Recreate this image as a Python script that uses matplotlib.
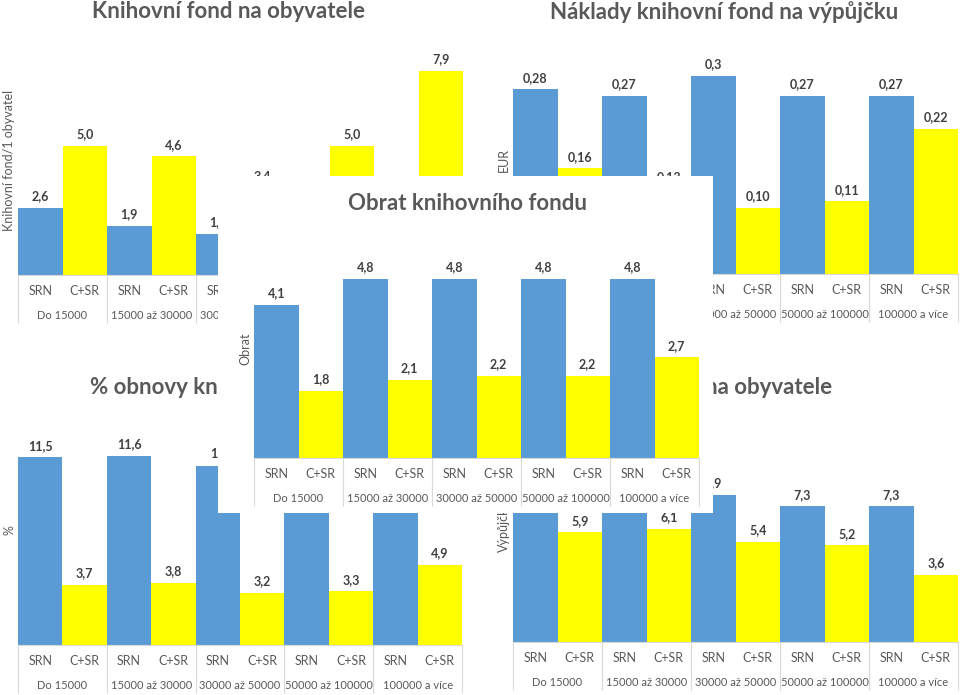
import numpy as np
import matplotlib
matplotlib.use('Agg')
from matplotlib import pyplot as plt

plt.rcParams['font.family'] = ['Lato', 'DejaVu Sans']

# categories
groups = ['Do 15000', '15000 až 30000', '30000 až 50000', '50000 až 100000', '100000 a více']
series = ['SRN', 'C+SR']

# Knihovní fond na obyvatele
fond_srn = ['2,6', '1,9', '1,6', '1,5', '1,4']
fond_csr = ['5,0', '4,6', '3,4', '5,0', '7,9']
# Náklady knihovní fond na výpůjčku
naklady_srn = ['0,28', '0,27', '0,3', '0,27', '0,27']
naklady_csr = ['0,16', '0,13', '0,10', '0,11', '0,22']
# % obnovy knihovního fondu
obnova_srn = ['11,5', '11,6', '11', '11,3', '10,9']
obnova_csr = ['3,7', '3,8', '3,2', '3,3', '4,9']
# Výpůjčky na obyvatele
vypujcky_srn = ['7,6', '7,8', '7,9', '7,3', '7,3']
vypujcky_csr = ['5,9', '6,1', '5,4', '5,2', '3,6']
# Obrat knihovního fondu
obrat_srn = ['4,1', '4,8', '4,8', '4,8', '4,8']
obrat_csr = ['1,8', '2,1', '2,2', '2,2', '2,7']

blue = '#5B9BD5'
yellow = '#FFFF00'
grey = '#595959'
line = '#D9D9D9'

W, H = 960, 695
fig = plt.figure(figsize=(W / 100, H / 100), dpi=100)
fig.patch.set_facecolor('white')


def px(x0, y0, x1, y1):
    # pixel box (origin top-left) -> figure fraction
    return [x0 / W, 1 - y1 / H, (x1 - x0) / W, (y1 - y0) / H]


def num(t):
    return float(t.replace(',', '.'))


def panel(z, box, plot, title, title_xy, ylabel, srn, csr, ymax):
    # white card behind the chart (covers whatever lies below)
    bg = fig.add_axes(px(*box), zorder=z)
    bg.set_facecolor('white')
    bg.set_xticks([])
    bg.set_yticks([])
    for s in bg.spines.values():
        s.set_visible(False)
    bg.text(title_xy[0] / W, 1 - title_xy[1] / H, title, transform=fig.transFigure,
            ha='center', va='center', fontsize=16, fontweight='bold', color=grey)

    ax = fig.add_axes(px(*plot), zorder=z + 0.5)
    ax.patch.set_visible(False)
    xs = np.arange(len(groups)) * 2
    s_vals = [num(t) for t in srn]
    c_vals = [num(t) for t in csr]
    ax.bar(xs, s_vals, width=1.0, color=blue)
    ax.bar(xs + 1, c_vals, width=1.0, color=yellow)
    for x, v, t in zip(list(xs) + list(xs + 1), s_vals + c_vals, srn + csr):
        ax.annotate(t, (x, v), xytext=(0, 4), textcoords='offset points',
                    ha='center', va='bottom', fontsize=9, fontweight='bold', color='#404040')

    ax.set_xlim(-0.5, 2 * len(groups) - 0.5)
    ax.set_ylim(0, ymax)
    ax.set_xticks(np.arange(2 * len(groups)))
    ax.set_xticklabels(series * len(groups))
    ax.set_yticks([])
    ax.tick_params(axis='x', length=0, pad=7, labelsize=9, labelcolor=grey)
    for k in ['top', 'right', 'left']:
        ax.spines[k].set_visible(False)
    ax.spines['bottom'].set_color(line)
    ax.spines['bottom'].set_linewidth(0.8)

    plot_h = plot[3] - plot[1]
    ax.vlines(np.arange(-0.5, 2 * len(groups), 2), -48 / plot_h, 0,
              transform=ax.get_xaxis_transform(), clip_on=False, colors=line, lw=0.8)
    for g, name in enumerate(groups):
        ax.annotate(name, (2 * g + 0.5, 0), xycoords=('data', 'axes fraction'),
                    xytext=(0, -29.5), textcoords='offset points',
                    ha='center', va='center', fontsize=8, color=grey)
    ax.set_ylabel(ylabel, fontsize=9, color=grey, labelpad=2)
    return ax


panel(1, (0, 0, 482, 334), (18, 45, 463, 275), 'Knihovní fond na obyvatele', (229, 11),
      'Knihovní fond/1 obyvatel', fond_srn, fond_csr, 8.91)
panel(2, (485, 0, 960, 334), (513, 45, 958, 274), 'Náklady knihovní fond na výpůjčku', (724, 12),
      'EUR', naklady_srn, naklady_csr, 0.347)
panel(3, (0, 338, 488, 695), (18, 415, 462, 645), '% obnovy knihovního fondu', (229, 387),
      '%', obnova_srn, obnova_csr, 14.1)
panel(4, (490, 338, 960, 695), (513, 412, 958, 642), 'Výpůjčky na obyvatele', (720, 387),
      'Výpůjčky', vypujcky_srn, vypujcky_csr, 12.37)
panel(5, (218, 176, 713, 513), (254, 240, 699, 458), 'Obrat knihovního fondu', (467, 203),
      'Obrat', obrat_srn, obrat_csr, 5.84)

fig.savefig('out.png', dpi=100, facecolor='white')
